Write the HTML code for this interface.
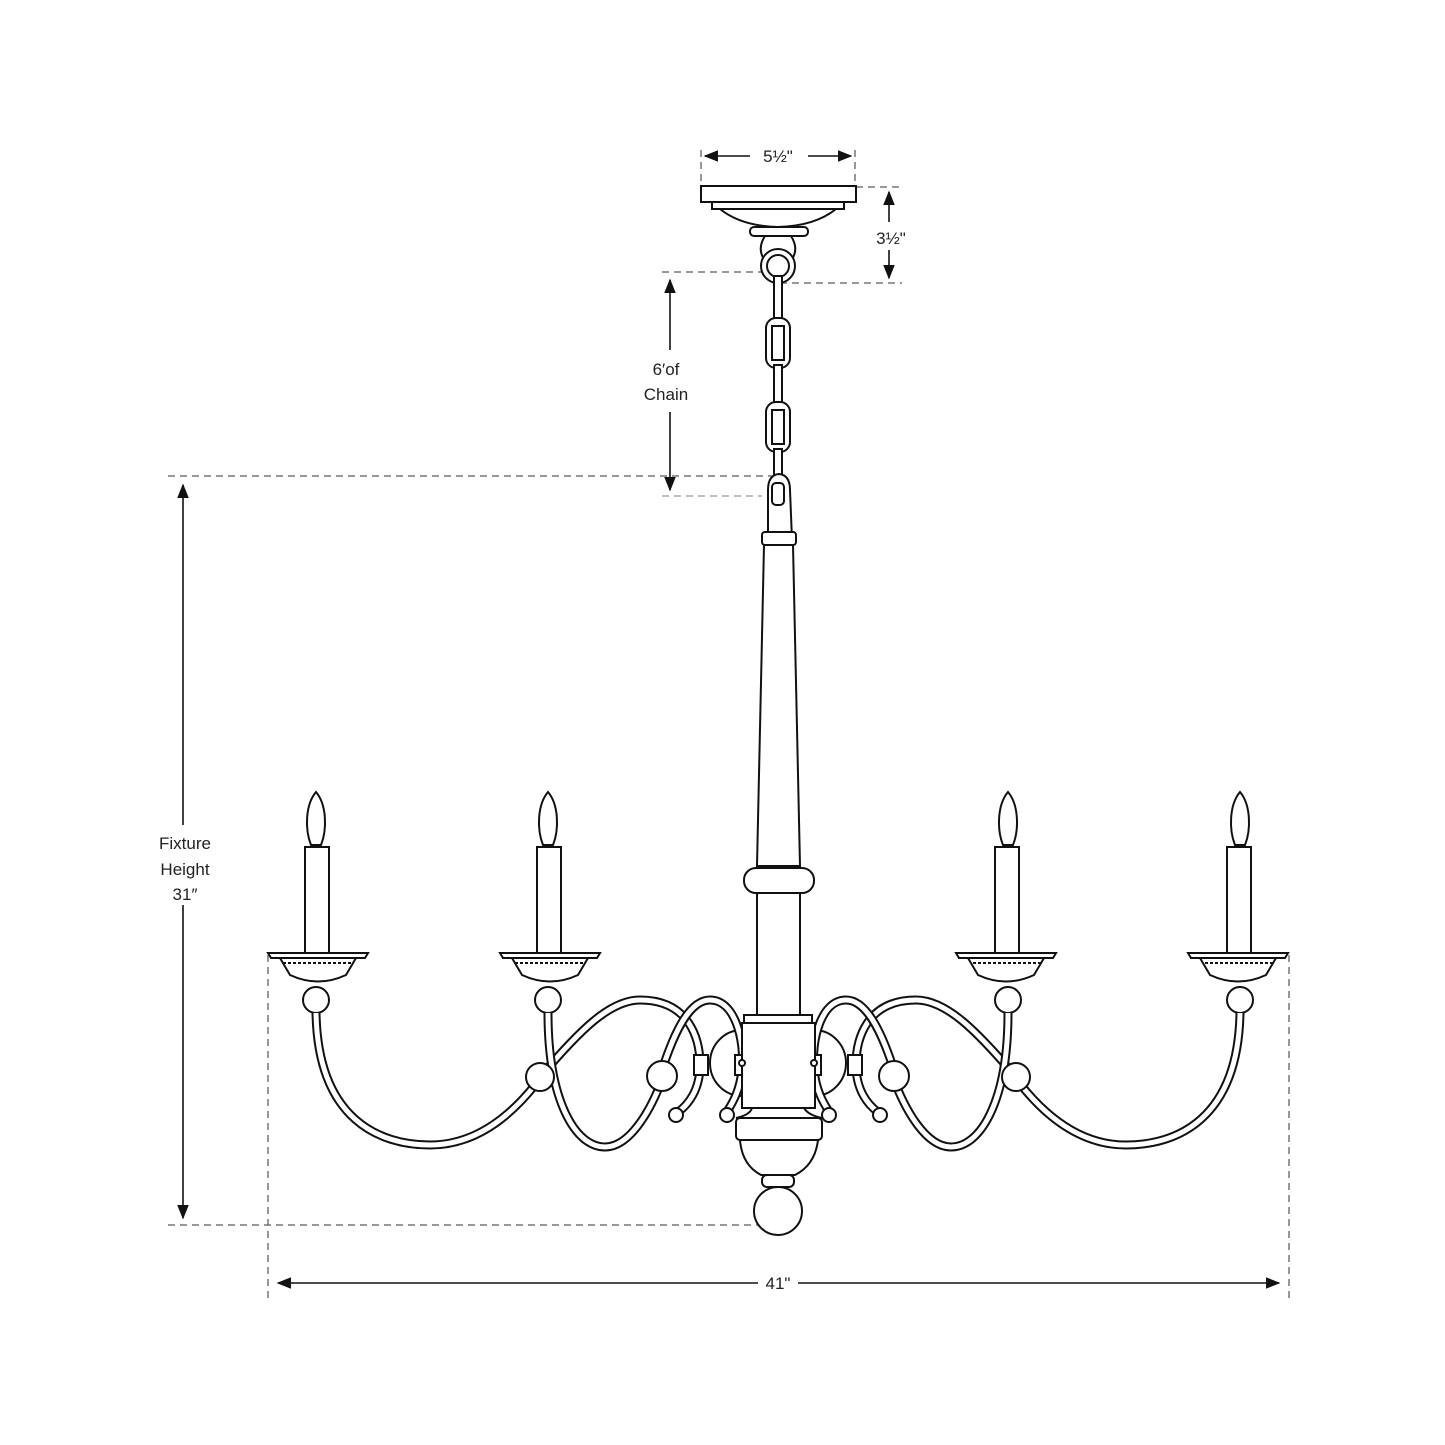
<!DOCTYPE html>
<html><head><meta charset="utf-8"><style>
html,body{margin:0;padding:0;background:#fff}
svg{display:block}
text{font-family:"Liberation Sans",sans-serif;font-size:17px;fill:#222;text-anchor:middle}
</style></head><body>
<svg width="1445" height="1445" viewBox="0 0 1445 1445" xmlns="http://www.w3.org/2000/svg">
<defs>
<marker id="ah" viewBox="0 0 10 10" refX="9" refY="5" markerWidth="9" markerHeight="9" orient="auto-start-reverse"><path d="M0,1 L10,5 L0,9 z" fill="#111"/></marker>
<g id="half" fill="#fff" stroke="#111" stroke-width="2">
  <ellipse cx="742" cy="1063" rx="32" ry="33"/>
  <path d="M316,792 C305,805 305,830 311,845 L321,845 C327,830 327,805 316,792 z"/>
  <rect x="305" y="847" width="24" height="106"/>
  <path d="M268,953 L368,953 L365,958 L271,958 z"/>
  <path d="M280,958 L356,958 L346,975 Q318,988 290,975 z"/>
  <line x1="283" y1="963" x2="353" y2="963" stroke-dasharray="3,2"/>
  <circle cx="316" cy="1000" r="13"/>
  <path d="M548,792 C537,805 537,830 543,845 L553,845 C559,830 559,805 548,792 z"/>
  <rect x="537" y="847" width="24" height="106"/>
  <path d="M500,953 L600,953 L597,958 L503,958 z"/>
  <path d="M512,958 L588,958 L578,975 Q550,988 522,975 z"/>
  <line x1="515" y1="963" x2="585" y2="963" stroke-dasharray="3,2"/>
  <circle cx="548" cy="1000" r="13"/>
  <g fill="none">
    <path d="M316,1013 C318,1120 380,1145 430,1145 C480,1145 515,1110 535,1085" stroke-width="9" stroke="#111"/>
    <path d="M316,1013 C318,1120 380,1145 430,1145 C480,1145 515,1110 535,1085" stroke-width="5" stroke="#fff"/>
    <path d="M540,1077 C580,1030 610,1000 640,1000 C690,1000 700,1040 700,1065 C700,1090 688,1105 678,1112" stroke-width="9" stroke="#111"/>
    <path d="M540,1077 C580,1030 610,1000 640,1000 C690,1000 700,1040 700,1065 C700,1090 688,1105 678,1112" stroke-width="5" stroke="#fff"/>
    <path d="M548,1013 C548,1100 575,1147 605,1147 C630,1147 650,1110 660,1085" stroke-width="9" stroke="#111"/>
    <path d="M548,1013 C548,1100 575,1147 605,1147 C630,1147 650,1110 660,1085" stroke-width="5" stroke="#fff"/>
    <path d="M662,1070 C675,1030 690,1000 710,1000 C735,1000 745,1040 742,1070 C740,1090 733,1102 728,1110" stroke-width="9" stroke="#111"/>
    <path d="M662,1070 C675,1030 690,1000 710,1000 C735,1000 745,1040 742,1070 C740,1090 733,1102 728,1110" stroke-width="5" stroke="#fff"/>
  </g>
  <circle cx="540" cy="1077" r="14"/>
  <circle cx="662" cy="1076" r="15"/>
  <circle cx="676" cy="1115" r="7"/>
  <circle cx="727" cy="1115" r="7"/>
  <rect x="694" y="1055" width="14" height="20"/>
  <rect x="735" y="1055" width="15" height="20"/>
</g>
</defs>
<g fill="none" stroke="#777" stroke-width="1.5" stroke-dasharray="7,5">
  <line x1="701" y1="150" x2="701" y2="186"/><line x1="855" y1="150" x2="855" y2="186"/>
  <line x1="856" y1="187" x2="902" y2="187"/><line x1="780" y1="283" x2="902" y2="283"/>
  <line x1="662" y1="272" x2="778" y2="272"/>
  <line x1="168" y1="476" x2="780" y2="476"/>
  <line x1="662" y1="496" x2="762" y2="496" stroke="#aaa"/>
  <line x1="168" y1="1225" x2="780" y2="1225"/>
  <line x1="268" y1="955" x2="268" y2="1300"/><line x1="1289" y1="955" x2="1289" y2="1300"/>
</g>
<g stroke="#111" stroke-width="1.6" fill="none">
  <line x1="750" y1="156" x2="705" y2="156" marker-end="url(#ah)"/>
  <line x1="808" y1="156" x2="851" y2="156" marker-end="url(#ah)"/>
  <line x1="889" y1="222" x2="889" y2="192" marker-end="url(#ah)"/>
  <line x1="889" y1="250" x2="889" y2="278" marker-end="url(#ah)"/>
  <line x1="670" y1="350" x2="670" y2="280" marker-end="url(#ah)"/>
  <line x1="670" y1="412" x2="670" y2="490" marker-end="url(#ah)"/>
  <line x1="183" y1="825" x2="183" y2="485" marker-end="url(#ah)"/>
  <line x1="183" y1="905" x2="183" y2="1218" marker-end="url(#ah)"/>
  <line x1="758" y1="1283" x2="278" y2="1283" marker-end="url(#ah)"/>
  <line x1="798" y1="1283" x2="1279" y2="1283" marker-end="url(#ah)"/>
</g>
<text x="778" y="162">5½"</text>
<text x="891" y="244">3½"</text>
<text x="666" y="375">6′of</text>
<text x="666" y="400">Chain</text>
<text x="185" y="849">Fixture</text>
<text x="185" y="875">Height</text>
<text x="185" y="900">31″</text>
<text x="778" y="1289">41"</text>
<g fill="#fff" stroke="#111" stroke-width="2">
  <rect x="701" y="186" width="155" height="16"/>
  <rect x="712" y="202" width="132" height="7"/>
  <path d="M720,209 L836,209 Q815,226 778,227 Q741,226 720,209 z"/>
  <rect x="750" y="227" width="58" height="9" rx="4"/>
  <path d="M765,236 L791,236 Q800,250 790,262 L766,262 Q756,250 765,236 z"/>
  <circle cx="778" cy="266" r="17" stroke-width="2"/>
  <circle cx="778" cy="266" r="11"/>
  <rect x="774" y="276" width="8" height="52"/>
  <rect x="766" y="318" width="24" height="50" rx="10"/><rect x="772" y="326" width="12" height="34"/>
  <rect x="774" y="365" width="8" height="42"/>
  <rect x="766" y="402" width="24" height="50" rx="10"/><rect x="772" y="410" width="12" height="34"/>
  <rect x="774" y="449" width="8" height="42"/>
  <path d="M768,540 L768,490 Q768,475 779,474 Q790,475 790,490 L792,540 z"/>
  <rect x="772" y="483" width="12" height="22" rx="4"/>
  <rect x="762" y="532" width="34" height="13" rx="3"/>
  <path d="M764,545 L793,545 L800,866 L757,866 z"/>
  <rect x="744" y="868" width="70" height="25" rx="12"/>
  <path d="M757,893 L800,893 L800,1015 L757,1015 z"/>
</g>
<use href="#half"/>
<use href="#half" transform="translate(1556,0) scale(-1,1)"/>
<g fill="#fff" stroke="#111" stroke-width="2">
  <rect x="744" y="1015" width="68" height="8"/>
  <rect x="742" y="1023" width="73" height="85"/>
  <circle cx="742" cy="1063" r="3"/><circle cx="814" cy="1063" r="3"/>
  <path d="M752,1108 L804,1108 Q808,1115 822,1118 L736,1118 Q750,1115 752,1108 z"/>
  <rect x="736" y="1118" width="86" height="22" rx="4"/>
  <path d="M740,1140 L818,1140 Q815,1165 795,1175 L761,1175 Q742,1165 740,1140 z"/>
  <rect x="762" y="1175" width="32" height="12" rx="5"/>
  <circle cx="778" cy="1211" r="24"/>
</g>
</svg>
</body></html>
